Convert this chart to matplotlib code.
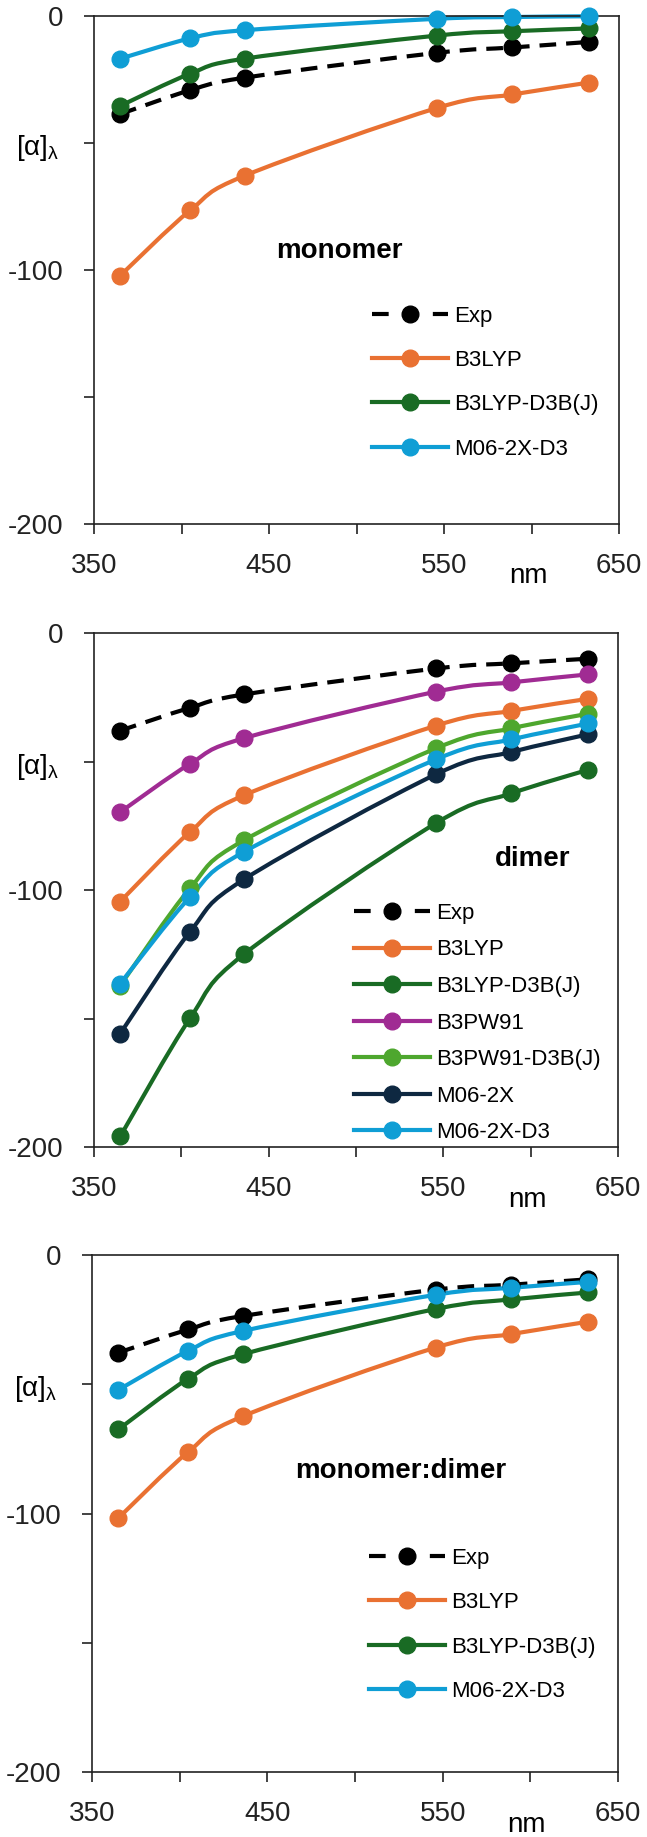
import matplotlib
matplotlib.use("Agg")
import matplotlib.pyplot as plt
import numpy as np
from matplotlib.path import Path
from matplotlib.patches import PathPatch
from matplotlib.lines import Line2D
from matplotlib.transforms import blended_transform_factory

plt.rcParams['font.family'] = ['Liberation Sans', 'DejaVu Sans']

# wavelengths (nm)
wl = [365, 405, 436, 546, 589, 633]

# monomer
mono_exp = [-38.6, -29.2, -24.3, -14.5, -12.4, -10.2]
mono_b3lyp = [-102.2, -76.5, -62.9, -36.2, -30.9, -26.2]
mono_b3lyp_d3 = [-35.4, -22.7, -16.8, -7.7, -6.0, -4.9]
mono_m06_d3 = [-16.8, -8.8, -5.6, -1.1, -0.4, -0.1]

# dimer
dim_exp = [-38.0, -29.1, -23.9, -13.8, -11.8, -10.0]
dim_b3lyp = [-104.5, -77.4, -63.1, -36.0, -30.3, -25.6]
dim_b3lyp_d3 = [-195.9, -149.9, -124.9, -73.9, -62.4, -53.2]
dim_b3pw91 = [-69.7, -50.9, -40.9, -22.8, -19.2, -16.1]
dim_b3pw91_d3 = [-137.2, -99.3, -80.6, -44.8, -37.1, -31.4]
dim_m06 = [-155.9, -116.2, -95.8, -54.9, -46.3, -39.4]
dim_m06_d3 = [-136.4, -102.7, -85.1, -49.1, -41.4, -35.2]

# monomer:dimer
md_exp = [-37.8, -28.8, -23.6, -13.4, -11.5, -9.4]
md_b3lyp = [-101.8, -76.1, -62.4, -35.8, -30.6, -25.8]
md_b3lyp_d3 = [-67.5, -47.8, -38.4, -20.9, -17.2, -14.5]
md_m06_d3 = [-52.2, -37.0, -29.4, -15.4, -12.7, -10.4]

colors = {
    'Exp': 'black',
    'B3LYP': '#E97132',
    'B3LYP-D3B(J)': '#196B24',
    'B3PW91': '#A02B93',
    'B3PW91-D3B(J)': '#4EA72E',
    'M06-2X': '#0E2841',
    'M06-2X-D3': '#0F9ED5',
}

W, H = 647, 1837
LW = 3
MS = 12


def smooth_curve(ax, x, y, color, dashed=False):
    # Excel-style smoothed line (Catmull-Rom as cubic Bezier) through the points
    pts = np.column_stack([x, y]).astype(float)
    n = len(pts)
    verts = [pts[0]]
    codes = [Path.MOVETO]
    for i in range(n - 1):
        p0 = pts[i - 1] if i > 0 else pts[i]
        p1 = pts[i]
        p2 = pts[i + 1]
        p3 = pts[i + 2] if i + 2 < n else pts[i + 1]
        verts += [p1 + (p2 - p0) / 6, p2 - (p3 - p1) / 6, p2]
        codes += [Path.CURVE4] * 3
    patch = PathPatch(Path(verts, codes), facecolor='none', edgecolor=color,
                      lw=LW, capstyle='butt', clip_on=False)
    if dashed:
        patch.set_linestyle((0, (4, 2.4)))
    ax.add_patch(patch)


def panel(rect, series, title, title_xy, leg_xy, labelspacing):
    ax = fig.add_axes(rect)
    handles = []
    for name, vals in series:
        c = colors[name]
        smooth_curve(ax, wl, vals, c, dashed=(name == 'Exp'))
        ax.plot(wl, vals, 'o', color=c, ms=MS, clip_on=False, zorder=3)
        h = Line2D([], [], color=c, lw=LW, marker='o', ms=MS,
                   linestyle=(0, (4, 10.6)) if name == 'Exp' else '-')
        handles.append((h, name))
    ax.set_xlim(350, 650)
    ax.set_ylim(-200, 0)
    ax.set_xticks(range(350, 651, 50))
    ax.set_xticklabels(['350', '', '450', '', '550', '', '650'])
    ax.set_yticks(range(-200, 1, 50))
    ax.set_yticklabels(['-200', '', '-100', '', '0'])
    ax.tick_params(axis='both', direction='out', length=7, width=1.2,
                   labelsize=20, colors='#222222')
    ax.tick_params(axis='y', pad=15)
    ax.tick_params(axis='x', pad=14)
    for s in ax.spines.values():
        s.set_linewidth(1.2)
        s.set_color('#222222')
    ax.text(title_xy[0], title_xy[1], title, fontsize=20, fontweight='bold',
            ha='center', va='center')
    tr = blended_transform_factory(ax.transAxes, ax.transData)
    ax.text(-0.108, -52, r'[$\mathregular{\alpha}$]$_{\mathregular{\lambda}}$',
            fontsize=20, transform=tr, ha='center', va='center')
    tr2 = blended_transform_factory(ax.transData, ax.transAxes)
    ax.text(598, -0.117, 'nm', fontsize=20, transform=tr2, ha='center',
            va='baseline')
    ax.legend([h for h, _ in handles], [n for _, n in handles],
              loc='upper left', bbox_to_anchor=leg_xy,
              bbox_transform=ax.transData, frameon=False, fontsize=16,
              handlelength=3.4, handletextpad=0.3, borderpad=0,
              borderaxespad=0, labelspacing=labelspacing, numpoints=1)
    return ax


fig = plt.figure(figsize=(W / 100, H / 100), dpi=100)

panel([94 / W, 1 - 524 / H, 525 / W, 508 / H],
      [('Exp', mono_exp), ('B3LYP', mono_b3lyp),
       ('B3LYP-D3B(J)', mono_b3lyp_d3), ('M06-2X-D3', mono_m06_d3)],
      'monomer', (490, -92.6), (509, -114), 1.05)

panel([94 / W, 1 - 1147 / H, 524 / W, 514 / H],
      [('Exp', dim_exp), ('B3LYP', dim_b3lyp),
       ('B3LYP-D3B(J)', dim_b3lyp_d3), ('B3PW91', dim_b3pw91),
       ('B3PW91-D3B(J)', dim_b3pw91_d3), ('M06-2X', dim_m06),
       ('M06-2X-D3', dim_m06_d3)],
      'dimer', (601, -88), (499, -105), 0.7)

panel([92 / W, 1 - 1772 / H, 526 / W, 517 / H],
      [('Exp', md_exp), ('B3LYP', md_b3lyp),
       ('B3LYP-D3B(J)', md_b3lyp_d3), ('M06-2X-D3', md_m06_d3)],
      'monomer:dimer', (526, -83.6), (508, -113.3), 1.05)

fig.savefig('out.png', dpi=100)
